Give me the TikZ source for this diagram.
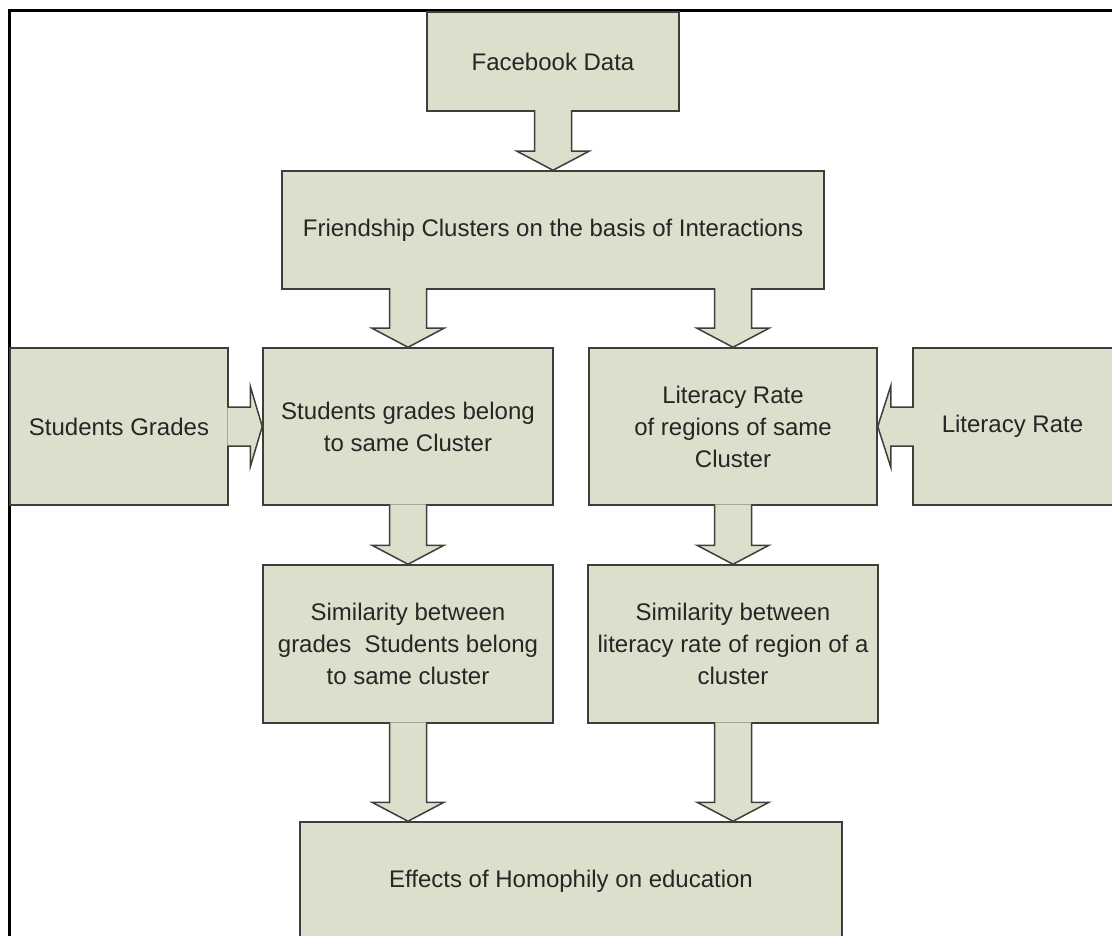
\documentclass[tikz,border=0pt]{standalone}
\usepackage{fontspec}
\setmainfont{Liberation Sans}
\usetikzlibrary{calc}

\definecolor{boxfill}{RGB}{220,223,204}
\definecolor{boxline}{RGB}{62,62,58}
\definecolor{boxtext}{RGB}{38,38,36}

\begin{document}
\begin{tikzpicture}[x=1pt,y=-1pt]
\tikzset{box/.style={draw=boxline,fill=boxfill,line width=1.5pt,rectangle,inner sep=0pt,anchor=center,align=center,text=boxtext,font=\fontsize{24}{32}\selectfont}}
\tikzset{blockarrow/.style={draw=boxline,fill=boxfill,line width=1.5pt}}
\tikzset{frame/.style={draw=black,line width=3pt}}

\useasboundingbox (0,0) rectangle (1112,936);
\clip (0,0) rectangle (1112,936);

\path[frame] (9,945) -- (9,11) -- (1120,11);

\node[box,minimum width=252,minimum height=99] (fbdata) at (553,61.5) {Facebook Data};
\node[box,minimum width=542,minimum height=118] (clusters) at (553,230) {Friendship Clusters on the basis of Interactions};

\node[box,minimum width=218,minimum height=157] (grades) at (119,426.5) {Students Grades};
\node[box,minimum width=290,minimum height=157] (grcl) at (408,426.5) {Students grades belong\\to same Cluster};
\node[box,minimum width=288,minimum height=157] (litcl) at (733,426.5) {Literacy Rate\\of regions of same\\Cluster};
\node[box,minimum width=240,minimum height=157] (literacy) at (1033,426.5) {\hspace*{-41pt}Literacy Rate};

\node[box,minimum width=290,minimum height=158] (simgr) at (408,644) {Similarity between\\grades\ \ Students belong\\to same cluster};
\node[box,minimum width=290,minimum height=158] (simlit) at (733,644) {Similarity between\\literacy rate of region of a\\cluster};

\node[box,minimum width=542,minimum height=118] (effects) at (571,881) {Effects of Homophily on education};

% downward block arrows
\foreach \from/\to/\at in {fbdata/clusters/fbdata,clusters/grcl/grcl,clusters/litcl/litcl,grcl/simgr/grcl,litcl/simlit/litcl,simgr/effects/simgr,simlit/effects/simlit} {
  \coordinate (s) at (\from.south -| \at.center);
  \coordinate (t) at (\to.north -| \at.center);
  \path[blockarrow] ($(s)+(-18.5,-1.5)$) -- ($(t)+(-18.5,-19)$) -- ($(t)+(-36,-19)$) -- (t)
     -- ($(t)+(36,-19)$) -- ($(t)+(18.5,-19)$) -- ($(s)+(18.5,-1.5)$);
}

% sideways block arrows
\path[blockarrow] ($(grades.east)+(-1.5,-19.5)$) -- ($(grcl.west)+(-12,-19.5)$) -- ($(grcl.west)+(-12,-40.5)$) -- (grcl.west)
   -- ($(grcl.west)+(-12,40.5)$) -- ($(grcl.west)+(-12,19.5)$) -- ($(grades.east)+(-1.5,19.5)$);
\path[blockarrow] ($(literacy.west)+(1.5,-19.5)$) -- ($(litcl.east)+(13,-19.5)$) -- ($(litcl.east)+(13,-40.5)$) -- (litcl.east)
   -- ($(litcl.east)+(13,40.5)$) -- ($(litcl.east)+(13,19.5)$) -- ($(literacy.west)+(1.5,19.5)$);

\end{tikzpicture}
\end{document}
